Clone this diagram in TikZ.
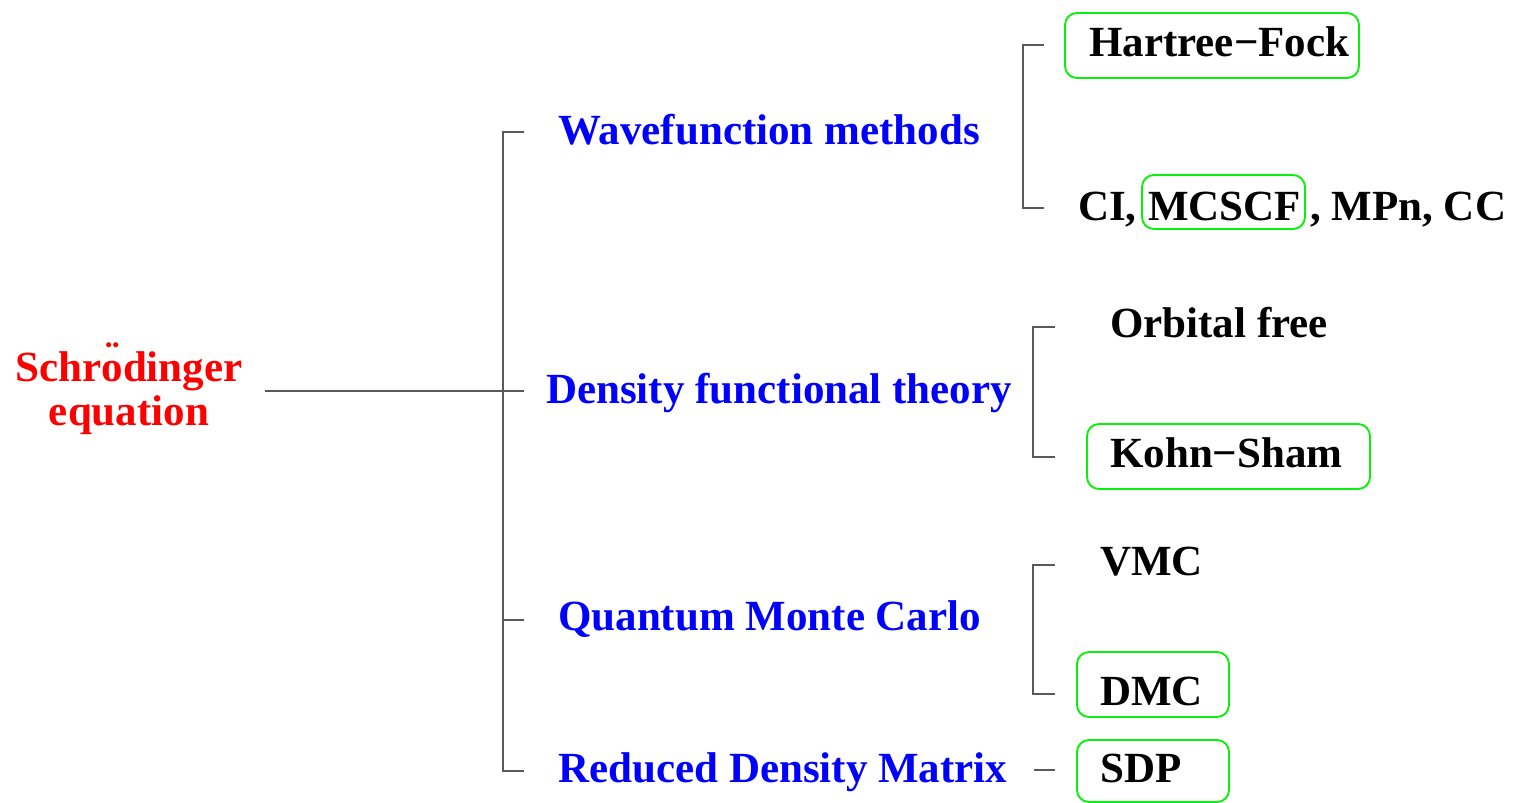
\documentclass[tikz,border=0pt]{standalone}
\usepackage{fontspec}
\setmainfont{Liberation Serif}
\begin{document}
\begin{tikzpicture}[x=1pt,y=-1pt,
  every node/.style={font=\fontsize{43}{42}\selectfont\bfseries, inner sep=0pt},
  lbl/.style={anchor=base west},
  method/.style={lbl, text=blue},
  leaf/.style={lbl, text=black},
  root/.style={align=center, text=red, font=\fontsize{43}{44}\selectfont\bfseries},
  hbox/.style={draw={rgb,255:red,10;green,240;blue,10}, line width=1.9pt, rounded corners=12pt, minimum width=#1},
  hbox/.default=150pt,
  conn/.style={draw=black!65, line width=1.3pt}]
\useasboundingbox (0,0) rectangle (1515,803);

% root of the tree
\node[root] (root) at (129,393) {Schr\ooalign{o\cr\hidewidth\raisebox{0.24em}{¨}\hidewidth\cr}dinger\\equation};

% method families
\node[method] (wf)  at (558,144) {Wavefunction methods};
\node[method] (dft) at (546,403) {Density functional theory};
\node[method] (qmc) at (558,630) {Quantum Monte Carlo};
\node[method] (rdm) at (558,782) {Reduced Density Matrix};

% individual methods
\node[leaf] (hf)    at (1089,56)  {Hartree−Fock};
\node[leaf] (ci)    at (1078,220) {CI,};
\node[leaf] (mcscf) at (1148,220) {MCSCF};
\node[leaf] (mpn)   at (1310,220) {, MPn, CC};
\node[leaf] (of)    at (1110,337) {Orbital free};
\node[leaf] (ks)    at (1110,467) {Kohn−Sham};
\node[leaf] (vmc)   at (1100,575) {VMC};
\node[leaf] (dmc)   at (1100,705) {DMC};
\node[leaf] (sdp)   at (1100,782) {SDP};

% highlight frames
\node[hbox=294pt, minimum height=65pt] (hfbox)    at (1212,45.5)   {};
\node[hbox=163pt, minimum height=54pt] (mcscfbox) at (1223.5,202)  {};
\node[hbox=283pt, minimum height=65pt] (ksbox)    at (1228.5,456.5){};
\node[hbox=152pt, minimum height=65pt] (dmcbox)   at (1153,684.5)  {};
\node[hbox=152pt, minimum height=62pt] (sdpbox)   at (1153,771)    {};

% bracket from the root to the families
\coordinate (r0) at (265,391);
\coordinate (r1) at (524,391);
\coordinate (m1) at (524,132);
\coordinate (m1c) at (503,132);
\coordinate (m3) at (524,620);
\coordinate (m3c) at (503,620);
\coordinate (m4) at (524,771);
\coordinate (m4c) at (503,771);
\draw[conn] (r0) -- (r1);
\draw[conn] (m1) -- (m1c) -- (m4c) -- (m4);
\draw[conn] (m3c) -- (m3);

% wavefunction bracket
\coordinate (w1) at (1044,45);
\coordinate (w1c) at (1023,45);
\coordinate (w2c) at (1023,208);
\coordinate (w2) at (1044,208);
\draw[conn] (w1) -- (w1c) -- (w2c) -- (w2);

% density functional bracket
\coordinate (d1) at (1055,327);
\coordinate (d1c) at (1033,327);
\coordinate (d2c) at (1033,457);
\coordinate (d2) at (1055,457);
\draw[conn] (d1) -- (d1c) -- (d2c) -- (d2);

% quantum Monte Carlo bracket
\coordinate (q1) at (1055,565);
\coordinate (q1c) at (1033,565);
\coordinate (q2c) at (1033,694);
\coordinate (q2) at (1055,694);
\draw[conn] (q1) -- (q1c) -- (q2c) -- (q2);

% reduced density matrix link
\coordinate (s0) at (1034,770);
\coordinate (s1) at (1055,770);
\draw[conn] (s0) -- (s1);
\end{tikzpicture}
\end{document}
